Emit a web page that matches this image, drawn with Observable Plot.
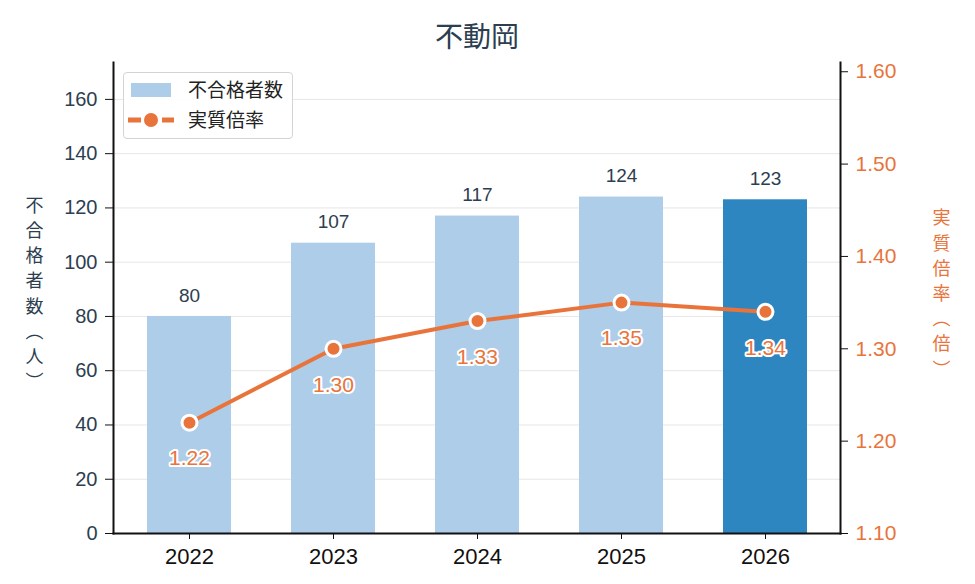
<!DOCTYPE html>
<html><head><meta charset="utf-8">
<script src="https://cdn.jsdelivr.net/npm/d3@7"></script>
<script src="https://cdn.jsdelivr.net/npm/@observablehq/plot@0.6"></script>
<style>
body{margin:0;background:#fff;font-family:"Liberation Sans","Noto Sans CJK JP",sans-serif;}
#wrap{position:relative;width:975px;height:584px;}
#legend{position:absolute;left:123px;top:72px;width:168px;height:65px;border:1px solid #d4d4d4;border-radius:4px;background:rgba(255,255,255,0.9);font-size:19px;color:#222;font-family:"Noto Sans CJK JP",sans-serif;}
.row{position:absolute;left:0;width:168px;height:20px;}
.lab{position:absolute;left:64px;top:-4px;white-space:nowrap;line-height:26px;}
</style></head>
<body>
<div id="wrap"></div>
<script>
const title = "不動岡";
const years = ["2022","2023","2024","2025","2026"];
const failCounts = [80, 107, 117, 124, 123];
const rates = [1.22, 1.30, 1.33, 1.35, 1.34];
const leftTicks = [0, 20, 40, 60, 80, 100, 120, 140, 160];
const rightTicks = [1.10, 1.20, 1.30, 1.40, 1.50, 1.60];
const leftLabel = "不\n合\n格\n者\n数\n︵\n人\n︶";
const rightLabel = "実\n質\n倍\n率\n︵\n倍\n︶";
const seriesNames = ["不合格者数", "実質倍率"];
const highlightYear = "2026";

const leftMax = 173.6;
const rightDomain = [1.10, 1.61];
const toLeft = v => (v - rightDomain[0]) / (rightDomain[1] - rightDomain[0]) * leftMax;
const fromLeft = y => rightDomain[0] + y / leftMax * (rightDomain[1] - rightDomain[0]);

const data = years.map((y, i) => ({year: y, count: failCounts[i], rate: rates[i], ry: toLeft(rates[i])}));

const lightBlue = "#aecde8", darkBlue = "#2e86c1", orange = "#e8743b";
const slate = "#2c3e50";
const cjk = '"Noto Sans CJK JP", sans-serif';

const plot = Plot.plot({
  width: 975, height: 584,
  marginLeft: 113, marginRight: 135, marginTop: 62, marginBottom: 51,
  style: {fontFamily: '"Liberation Sans", "Noto Sans CJK JP", sans-serif', fontSize: "20px", background: "#fff"},
  x: {type: "band", domain: years, paddingInner: 0.42, paddingOuter: 0.23, label: null},
  y: {domain: [0, leftMax], label: null},
  marks: [
    Plot.gridY(leftTicks.filter(d => d > 0), {stroke: "#e6e6e6", strokeOpacity: 1, strokeWidth: 1}),
    Plot.barY(data, {x: "year", y: "count", fill: d => d.year === highlightYear ? darkBlue : lightBlue}),
    Plot.text(data, {x: "year", y: "count", text: d => String(d.count), dy: -21, fontSize: 19, fill: slate}),
    Plot.line(data, {x: "year", y: "ry", stroke: orange, strokeWidth: 4}),
    Plot.dot(data, {x: "year", y: "ry", r: 7.5, fill: orange, stroke: "white", strokeWidth: 3}),
    Plot.text(data, {x: "year", y: "ry", text: d => d.rate.toFixed(2), dy: 36, fontSize: 21, fill: orange, stroke: "white", strokeWidth: 4}),
    Plot.axisY(leftTicks, {anchor: "left", tickSize: 8, tickPadding: 8, fill: slate, stroke: "#111", fontSize: 20, tickFormat: d => String(d), label: null}),
    Plot.axisY(rightTicks.map(toLeft), {anchor: "right", tickSize: 7, tickPadding: 8, fill: orange, stroke: "#111", fontSize: 21, tickFormat: d => fromLeft(d).toFixed(2), label: null}),
    Plot.axisX({anchor: "bottom", tickSize: 6, tickPadding: 9, fill: "#111", stroke: "#111", fontSize: 22, label: null}),
    Plot.frame({anchor: "left", stroke: "#111", strokeWidth: 2}),
    Plot.frame({anchor: "right", stroke: "#111", strokeWidth: 2}),
    Plot.frame({anchor: "bottom", stroke: "#111", strokeWidth: 2}),
    Plot.text([title], {frameAnchor: "top", dy: -35, fontSize: 28, fill: slate, fontFamily: cjk}),
    Plot.text([leftLabel], {frameAnchor: "left", dx: -88, dy: -6, fontSize: 18, lineHeight: 1.4, fill: slate, fontFamily: cjk}),
    Plot.text([rightLabel], {frameAnchor: "right", dx: 110, dy: -6, fontSize: 18, lineHeight: 1.4, fill: orange, fontFamily: cjk})
  ]
});

const wrap = document.getElementById("wrap");
wrap.appendChild(plot);

const legend = document.createElement("div");
legend.id = "legend";
legend.innerHTML = `
  <div class="row" style="top:7px;"><div style="position:absolute;left:7px;top:3px;width:40px;height:14px;background:${lightBlue}"></div><span class="lab">${seriesNames[0]}</span></div>
  <div class="row" style="top:37px;">
    <svg width="60" height="20" style="position:absolute;left:0;top:0">
      <line x1="4" y1="10" x2="50" y2="10" stroke="${orange}" stroke-width="5" stroke-dasharray="13 21"/>
      <circle cx="27" cy="10" r="7" fill="${orange}"/>
    </svg>
    <span class="lab">${seriesNames[1]}</span></div>`;
wrap.appendChild(legend);
</script>
</body></html>
